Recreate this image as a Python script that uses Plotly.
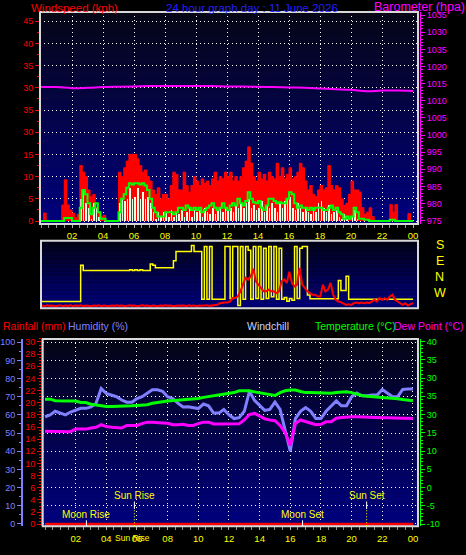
import plotly.graph_objects as go

# ---------------- data ----------------
t10 = [i / 6 for i in range(145)]      # 10-minute samples (hours)
t20 = [i / 3 for i in range(73)]       # 20-minute samples (hours)
t60 = list(range(25))                  # hourly samples

gust = [0, 1.8, 0, 0, 0, 0,
        0, 0, 3.6, 9.3, 3.6, 2.5,
        1.7, 0.8, 1.5, 12.5, 11, 10,
        7, 5.5, 6, 3, 2, 1,
        1.3, 0, 0, 0, 0, 0,
        11, 10, 12, 13.5, 15, 15,
        15, 14, 12.5, 11, 11.5, 10,
        9, 7, 6, 7.5, 5, 6,
        6, 5, 8, 11, 10.5, 7,
        7, 11, 8, 6.5, 8, 10,
        9, 8, 9.5, 8.5, 9, 8,
        9.5, 11, 9, 10, 9.5, 11,
        10, 11, 9, 10, 9, 10,
        12, 13.5, 16.7, 13, 10, 9,
        11, 9.5, 10.5, 9, 11, 10,
        9.5, 13, 10, 12, 9.5, 10.5,
        12, 9.5, 10, 11, 13, 12,
        9, 7, 8, 6, 5.5, 7,
        8, 7, 7.5, 12.5, 8, 7,
        8, 7.5, 5, 3.5, 4, 6,
        9, 7, 7, 6.5, 3, 1.5,
        2, 3, 1, 0, 0, 0,
        0, 0, 0, 3.7, 2, 3.7,
        0, 0, 0, 0, 1.7, 0,
        0]

speed = [0, 0, 0, 0, 0, 0,
         0, 0, 0, 0, 0, 0,
         0, 0, 0, 5, 7, 4,
         3, 0.5, 4, 3, 1, 0,
         0, 0, 0, 0, 0, 0,
         4, 5, 4.5, 5, 7.5, 5,
         5.5, 7.5, 5, 6.5, 5, 5.5,
         4, 2, 0.5, 2, 1, 2,
         2, 1, 2.5, 1, 2, 1.5,
         2.5, 1, 2, 3, 1, 2.5,
         2, 2.5, 1, 3, 2, 1.5,
         3, 1.5, 2.5, 3, 2, 3,
         2.5, 3, 2, 3.5, 3, 4,
         3, 4, 5, 3, 3.5, 2.5,
         3, 4.5, 2, 3.5, 3, 4,
         3, 2, 4, 3, 4.5, 5,
         5.5, 3, 2.5, 4, 3, 2,
         3, 2, 1.5, 3, 2, 4,
         4.5, 3, 2, 3.5, 1.5, 2,
         2.5, 1, 0.5, 1.5, 0.5, 0,
         1, 2.5, 0.5, 0, 0, 0,
         0, 0, 0, 0, 0, 0,
         0, 0, 0, 0, 0, 0,
         0, 0, 0, 0, 0, 0,
         0]

avg = [0, 0, 0, 0, 0, 0,
       0, 0, 0, 0.7, 0.7, 0.7,
       0, 0, 0, 3, 7, 6,
       4, 1.5, 3, 4, 2, 0.5,
       0.5, 0, 0, 0, 0, 0,
       2, 5, 6, 7.5, 8.5, 8.2,
       8.5, 8.5, 8.2, 8.5, 8, 7,
       5, 3, 2, 1, 1, 1,
       2, 2, 2, 1.5, 2, 3,
       3, 2.5, 3.5, 3, 2.5, 3,
       2.5, 3, 2, 2.5, 3, 3.5,
       4, 3, 2.5, 3, 4, 3,
       2.5, 3.5, 4, 3.5, 5, 4,
       3.5, 4.5, 6.5, 5, 4.2, 4,
       4.5, 3, 2.5, 3.5, 5, 5,
       4.5, 4, 4.2, 4, 4, 5,
       6.5, 6, 4, 3, 3.5, 3,
       3, 2.5, 3, 2.5, 3, 3,
       3, 2.5, 2.5, 3, 3.5, 2.5,
       3, 2, 1.5, 0.5, 1, 0.5,
       1, 3, 2, 0.5, 0.5, 0.3,
       0.3, 0, 0, 0, 0, 0,
       0, 0, 0, 0.3, 0.3, 0,
       0, 0, 0, 0, 0, 0,
       0]

baro = [1014.0, 1014.0, 1013.7, 1013.8, 1014.0, 1014.1, 1014.2, 1014.3,
        1014.3, 1014.3, 1014.3, 1014.3, 1014.2, 1014.2, 1014.1, 1014.0,
        1013.9, 1013.8, 1013.6, 1013.4, 1013.2, 1012.8, 1013.0, 1013.0,
        1012.9]

# wind direction in degrees, unwrapped (180 = S ... 540 = S)
wdir = [223, 223, 223, 223, 223, 223,
        223, 223, 223, 223, 223, 223,
        223, 223, 223, 425, 396, 396,
        396, 396, 396, 396, 396, 396,
        396, 396, 396, 396, 396, 396,
        396, 396, 396, 396, 400, 396,
        400, 396, 400, 396, 396, 396,
        433, 425, 411, 411, 411, 411,
        411, 411, 411, 451, 503, 503,
        503, 503, 503, 503, 536, 503,
        503, 503, 235, 530, 235, 530,
        235, 235, 235, 235, 235, 530,
        530, 240, 530, 530, 200, 530,
        235, 530, 510, 235, 530, 240,
        530, 235, 520, 240, 530, 250,
        530, 235, 520, 235, 245, 225,
        240, 230, 530, 240, 520, 530,
        530, 260, 239, 239, 239, 239,
        239, 239, 239, 239, 239, 239,
        239, 340, 285, 285, 364, 235,
        235, 235, 235, 235, 235, 235,
        235, 235, 235, 235, 235, 235,
        235, 235, 235, 235, 235, 235,
        235, 235, 235, 235, 235, 235,
        235]

wmid = [0.8, 0.6, 0.9, 0.7, 0.8, 0.6,
        0.7, 0.9, 0.6, 0.8, 0.7, 0.9,
        0.6, 0.8, 0.7, 0.9, 0.6, 0.8,
        0.7, 0.6, 0.8, 0.7, 0.9, 0.6,
        0.8, 0.7, 0.6, 0.8, 0.7, 0.9,
        0.7, 0.8, 0.6, 0.7, 0.9, 0.7,
        0.8, 0.6, 0.7, 0.9, 0.7, 0.8,
        0.6, 0.8, 0.7, 0.6, 0.8, 0.7,
        0.9, 0.7, 0.8, 0.6, 0.7, 0.8,
        0.7, 0.8, 0.6, 0.9, 0.7, 0.8,
        0.6, 0.8, 0.7, 0.8, 0.9, 0.7,
        0.8, 0.8, 1.0, 1.5, 1.7, 1.7,
        1.7, 2.0, 3.0, 3.0, 3.5, 5.0,
        7, 9, 8.5, 9.5, 11.7, 8,
        7, 6, 5, 5, 5.5, 5,
        5, 4.5, 5, 8, 8.5, 7.5,
        10.8, 7.5, 6.5, 7, 12, 7,
        6, 5, 4.5, 4, 4, 3.5,
        3.5, 7, 5, 5.5, 7.5, 4,
        2.5, 2, 1.8, 1.5, 1, 1.2,
        1, 1.5, 1.7, 1.5, 1.7, 1.5,
        1.7, 1.5, 2, 2.5, 2, 3,
        2.5, 3, 2.5, 3.5, 4, 2.5,
        2, 1.5, 1, 1.5, 0.8, 1.2,
        1.5]

humidity = [59, 60, 62, 61, 60, 61.6, 62.5, 63.6, 63.6, 64.4, 66.5, 74.5,
            71.8, 71, 70, 68.2, 67, 67, 69, 70, 72, 73.8, 73.8, 73,
            70, 69, 66.5, 64.4, 64.5, 64, 63.5, 66, 65, 61, 61, 63,
            60, 58, 58.5, 62, 73, 68, 65, 62.5, 63, 67, 63, 52,
            40, 58, 62, 64, 62, 58, 58, 62, 65, 67.7, 65, 65,
            70, 72, 70.5, 70.5, 71, 71, 74, 72, 70, 70, 74, 74.3,
            74.3]

temperature = [24.2, 24.2, 23.8, 23.7, 23.7, 23.7, 23.7, 23.3, 23.3,
               22.8, 22.6, 22.3, 22.2, 22.2, 22.2, 22.3, 22.3, 22.4,
               22.5, 22.5, 22.7, 23.1, 23.2, 23.5, 23.7, 23.8, 24.0,
               24.0, 24.2, 24.4, 24.4, 24.7, 24.9, 25.0, 25.3, 25.5,
               25.7, 26.0, 26.5, 26.5, 26.5, 26.2, 26.0, 25.8, 25.5,
               25.2, 26.0, 26.5, 26.7, 26.7, 26.3, 26.0, 26.0, 25.9,
               25.8, 25.8, 25.8, 26.0, 26.2, 26.2, 26.0, 25.5, 25.2,
               25.0, 24.9, 24.9, 24.8, 24.6, 24.4, 24.3, 24.1, 23.9,
               23.8]

dewpoint = [15.4, 15.4, 15.4, 15.3, 15.3, 15.3, 16.0, 16.0, 16.0,
            16.3, 16.5, 17.2, 16.7, 16.5, 16.3, 16.3, 17.0, 17.0,
            17.0, 17.5, 17.9, 17.9, 17.9, 17.7, 17.6, 17.2, 17.2,
            17.3, 17.0, 17.0, 17.5, 17.9, 17.9, 17.4, 17.4, 17.4,
            17.4, 17.5, 17.5, 18.5, 20.0, 20.3, 19.5, 18.8, 18.5,
            18.3, 17.0, 15.0, 11.5, 17.5, 18.5, 18.0, 17.5, 17.2,
            17.3, 18.0, 18.0, 19.0, 19.2, 19.4, 19.4, 19.4, 19.3,
            19.2, 19.2, 19.2, 19.1, 19.1, 19.0, 19.0, 19.0, 19.0,
            18.9]

rainfall = [0, 0, 0, 0, 0, 0, 0, 0, 0, 0, 0, 0, 0,
            0, 0, 0, 0, 0, 0, 0, 0, 0, 0, 0, 0]

hour_ticks = [2, 4, 6, 8, 10, 12, 14, 16, 18, 20, 22, 24]
hour_labels = ["02", "04", "06", "08", "10", "12", "14", "16", "18", "20", "22", "00"]

wind_ticks = [0, 5, 10, 15, 20, 25, 30, 35, 40, 45]
wind_labels = ["0", "5", "10", "15", "30", "35", "30", "35", "40", "45"]
baro_ticks = [975, 980, 985, 990, 995, 1000, 1005, 1010, 1015, 1020, 1025, 1030, 1035]
baro_labels = ["975", "980", "985", "990", "995", "1000", "1005", "1010", "1015",
               "1020", "1035", "1030", "1035"]
hum_ticks = [0, 10, 20, 30, 40, 50, 60, 70, 80, 90, 100]
rain_ticks = [0, 2, 4, 6, 8, 10, 12, 14, 16, 18, 20, 22, 24, 26, 28, 30]
temp_ticks = [-10, -5, 0, 5, 10, 15, 20, 25, 30, 35, 40]
temp_labels = ["-10", "-5", "0", "5", "10", "15", "30", "35", "30", "35", "40"]
dir_vals = [540, 450, 360, 270, 180]
dir_labels = ["S", "E", "N", "W", "S"]

events = ["Moon Rise", "Sun Rise", "Moon Set", "Sun Set"]
event_hours = [2.7, 5.83, 16.8, 20.98]

# ---------------- figure ----------------
W, H = 466, 555
FONT = "Liberation Sans, Arial, sans-serif"
YEL = "#ffff00"
RED = "#ff0000"
MAG = "#ff00ff"
GRN = "#00ff00"
HUM = "#8080ff"


def fx(px):
    return px / W


def fy(py):
    return 1 - py / H


fig = go.Figure()

# top panel
fig.add_trace(go.Bar(x=t10, y=gust, width=1 / 6, offset=0,
                     marker=dict(color=RED, line=dict(width=0)),
                     xaxis="x", yaxis="y"))
fig.add_trace(go.Bar(x=t10, y=speed, width=0.1, offset=0.03,
                     marker=dict(color="#e4ffe4", line=dict(width=0)),
                     xaxis="x", yaxis="y"))
fig.add_trace(go.Scatter(x=t10, y=gust, mode="lines", line=dict(color=RED, width=1, shape="hv"),
                         xaxis="x", yaxis="y"))
fig.add_trace(go.Scatter(x=t10, y=avg, mode="lines", line=dict(color=GRN, width=2, shape="hv"),
                         xaxis="x", yaxis="y"))
fig.add_trace(go.Scatter(x=t60, y=baro, mode="lines", line=dict(color=MAG, width=2, shape="spline"),
                         xaxis="x", yaxis="y2"))

# middle panel
fig.add_trace(go.Scatter(x=t10, y=wdir, mode="lines", line=dict(color=YEL, width=1.5, shape="hv"),
                         xaxis="x2", yaxis="y3"))
fig.add_trace(go.Scatter(x=t10, y=wmid, mode="lines", line=dict(color=RED, width=2),
                         xaxis="x2", yaxis="y4"))

# bottom panel
fig.add_trace(go.Scatter(x=t20, y=humidity, mode="lines", line=dict(color=HUM, width=3),
                         xaxis="x3", yaxis="y5"))
fig.add_trace(go.Scatter(x=t20, y=temperature, mode="lines", line=dict(color=GRN, width=3),
                         xaxis="x3", yaxis="y6"))
fig.add_trace(go.Scatter(x=t20, y=dewpoint, mode="lines", line=dict(color=MAG, width=3),
                         xaxis="x3", yaxis="y6"))
fig.add_trace(go.Scatter(x=t60, y=rainfall, mode="lines", line=dict(color=RED, width=3),
                         xaxis="x3", yaxis="y7"))

shapes = []


def gradient(xr, yr, top, bottom, n=50):
    for k in range(n):
        frac = (k + 0.5) / n
        c = [round(bottom[j] + (top[j] - bottom[j]) * frac) for j in range(3)]
        shapes.append(dict(type="rect", xref=xr + " domain", yref=yr + " domain",
                           x0=0, x1=1, y0=k / n, y1=(k + 1) / n + 0.003,
                           fillcolor="rgb(%d,%d,%d)" % tuple(c), line=dict(width=0),
                           layer="below"))
    shapes.append(dict(type="rect", xref=xr + " domain", yref=yr + " domain",
                       x0=0, x1=1, y0=0, y1=1, line=dict(color="#d8d8d8", width=2),
                       fillcolor="rgba(0,0,0,0)", layer="above"))


gradient("x", "y", (6, 6, 22), (0, 0, 128))
gradient("x2", "y3", (2, 2, 24), (0, 0, 128))
gradient("x3", "y5", (4, 4, 20), (0, 0, 128))

for name, h in zip(events, event_hours):
    if name.startswith("Sun"):
        shapes.append(dict(type="line", xref="x3", yref="y5 domain", x0=h, x1=h,
                           y0=0.092, y1=0.132, line=dict(color="white", width=1)))
        shapes.append(dict(type="line", xref="x3", yref="y5 domain", x0=h, x1=h,
                           y0=0, y1=0.092, line=dict(color=YEL, width=1, dash="1px,2px")))
    else:
        shapes.append(dict(type="line", xref="x3", yref="y5 domain", x0=h, x1=h,
                           y0=0, y1=0.032, line=dict(color="white", width=1)))

ann = []


def text(t, x, y, color, size=11, xanchor="center", xref="paper", yref="paper"):
    ann.append(dict(text=t, x=x, y=y, xref=xref, yref=yref, showarrow=False,
                    xanchor=xanchor, yanchor="middle",
                    font=dict(family=FONT, size=size, color=color)))


text("Windspeed (kph)", fx(74.5), fy(6), RED, 11.5)
text("24 hour graph day : 11 June 2026", fx(251.5), fy(6), "#2020ff", 11.5)
text("Barometer (hpa)", fx(372), fy(5), MAG, 12.5, xanchor="left")
text("Rainfall (mm)", fx(1), fy(326.5), RED, 10.5, xanchor="left")
text("Humidity (%)", fx(66), fy(326.5), HUM, 10.5, xanchor="left")
text("Windchill", fx(268), fy(326.5), "#c8d4ff", 10.5)
text("Temperature (°C)", fx(313), fy(326.5), GRN, 10.5, xanchor="left")
text("Dew Point (°C)", fx(392), fy(326.5), MAG, 10.5, xanchor="left")

for v, lab in zip(dir_vals, dir_labels):
    text(lab, fx(439.5), v, YEL, 12.5, xref="paper", yref="y3")

for name, h in zip(events, event_hours):
    ytxt = 0.166 if name.startswith("Sun") else 0.063
    text(name, h, ytxt, YEL, 10, xref="x3", yref="y5 domain")
text("Sun Rise", event_hours[1] - 0.12, fy(540.7), YEL, 8.5, xref="x3", yref="paper")

tickfont_x = dict(family=FONT, size=9.5, color=YEL)
grid = dict(showgrid=True, gridcolor="#ffffff", griddash="1px,3px", gridwidth=1)


def xaxis(domain, anchor, rng, labels=True):
    d = dict(domain=domain, anchor=anchor, range=rng, zeroline=False, showline=False)
    if labels:
        d.update(tickmode="array", tickvals=hour_ticks, ticktext=hour_labels,
                 tickfont=tickfont_x, ticks="outside", ticklen=3, tickcolor="#b0b0b0",
                 minor=dict(tickmode="linear", tick0=0, dtick=0.5, ticks="outside",
                            ticklen=3, tickcolor="#909090", showgrid=False), **grid)
    else:
        d.update(showticklabels=False, ticks="", showgrid=False)
    return d


def yaxis(color, tickvals, ticktext, rng, minor_dtick, **kw):
    d = dict(range=rng, tickmode="array", tickvals=tickvals, ticktext=ticktext,
             tickfont=dict(family=FONT, size=9, color=color), ticks="outside",
             ticklen=4, tickcolor=color, zeroline=False,
             minor=dict(tickmode="linear", tick0=0, dtick=minor_dtick, ticks="outside",
                        ticklen=2, tickcolor=color, showgrid=False))
    d.update(kw)
    return d


fig.update_layout(
    width=W, height=H, autosize=False,
    margin=dict(l=0, r=0, t=0, b=0),
    paper_bgcolor="#000000", plot_bgcolor="#000000",
    showlegend=False, barmode="overlay", bargap=0,
    xaxis=xaxis([fx(40), fx(418)], "y", [-0.065, 24.32]),
    yaxis=yaxis(RED, wind_ticks, wind_labels, [-0.67, 47.1], 2.5,
                domain=[fy(224), fy(10)], anchor="x", showline=False, **grid),
    yaxis2=yaxis(MAG, baro_ticks, baro_labels, [974.05, 1035.95], 1,
                 overlaying="y", side="right", anchor="free", position=fx(420),
                 showline=True, linecolor=MAG, linewidth=1, showgrid=False),
    xaxis2=xaxis([fx(41), fx(418)], "y3", [-0.065, 24.32], labels=False),
    yaxis3=dict(domain=[fy(309), fy(241)], anchor="x2", range=[185.5, 562],
                showticklabels=False, ticks="", showgrid=False, zeroline=False),
    yaxis4=dict(overlaying="y3", range=[0, 20], visible=False),
    xaxis3=xaxis([fx(42.7), fx(418)], "y5", [-0.15, 24.33]),
    yaxis5=yaxis(HUM, hum_ticks, [str(v) for v in hum_ticks], [-1.25, 101.8], 5,
                 domain=[fy(529), fy(340)], anchor="free", position=fx(22), side="left",
                 showline=True, linecolor=HUM, linewidth=2, **grid),
    yaxis6=yaxis(GRN, temp_ticks, temp_labels, [-10.6, 40.7], 1,
                 overlaying="y5", side="right", anchor="free", position=fx(420),
                 showline=True, linecolor=GRN, linewidth=1, showgrid=False),
    yaxis7=yaxis(RED, rain_ticks, [str(v) for v in rain_ticks], [-0.33, 30.5], 0.5,
                 overlaying="y5", side="left", anchor="free", position=fx(41),
                 showline=True, linecolor=RED, linewidth=1, showgrid=False),
    shapes=shapes,
    annotations=ann,
)

fig.write_html(
    "out.html",
    config={"displayModeBar": False, "staticPlot": True},
    post_script="document.body.style.margin='0';document.body.style.overflow='hidden';"
                "document.body.style.background='#000';",
)
